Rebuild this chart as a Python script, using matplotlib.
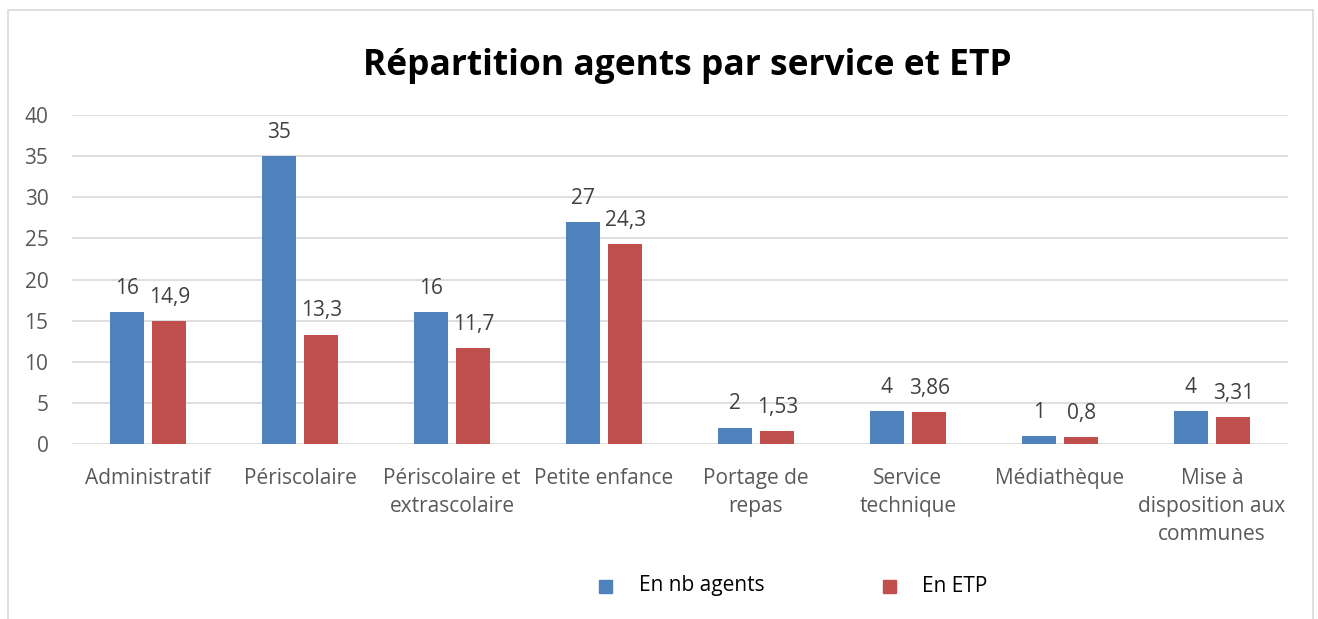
import matplotlib
matplotlib.use("Agg")
import matplotlib.pyplot as plt
import numpy as np
from matplotlib.patches import Rectangle

categories = ["Administratif", "Périscolaire", "Périscolaire et\nextrascolaire",
              "Petite enfance", "Portage de\nrepas", "Service\ntechnique",
              "Médiathèque", "Mise à\ndisposition aux\ncommunes"]
nb_agents = [16, 35, 16, 27, 2, 4, 1, 4]
etp = [14.9, 13.3, 11.7, 24.3, 1.53, 3.86, 0.8, 3.31]
yticks = [0, 5, 10, 15, 20, 25, 30, 35, 40]

BLUE = "#4f81bd"
RED = "#c0504d"
GREY = "#595959"
FONT = ["Open Sans", "DejaVu Sans"]
FS = 15

plt.rcParams["font.family"] = FONT

W, H = 1318, 619
fig = plt.figure(figsize=(W / 100, H / 100), dpi=100)

# outer chart frame
fig.patches.append(Rectangle((8 / W, -0.05), (1313 - 8) / W, 1 - 10 / H + 0.05,
                             transform=fig.transFigure, fill=False,
                             edgecolor="#d9d9d9", linewidth=1.2))

ax = fig.add_axes([72 / W, 1 - 444 / H, (1288 - 72) / W, (444 - 115) / H])
x = np.arange(len(categories))
bw = 0.224
gap = 0.058
b1 = ax.bar(x - (bw + gap) / 2, nb_agents, bw, color=BLUE, zorder=3)
b2 = ax.bar(x + (bw + gap) / 2, etp, bw, color=RED, zorder=3)

def fmt(v):
    return f"{v:g}".replace(".", ",")

for bars, vals in ((b1, nb_agents), (b2, etp)):
    for r, v in zip(bars, vals):
        ax.text(r.get_x() + r.get_width() / 2, v + 1.6, fmt(v), ha="center",
                va="bottom", fontsize=FS, color="#404040")

ax.set_xlim(-0.5, len(categories) - 0.5)
ax.set_ylim(0, 40)
ax.set_yticks(yticks)
ax.set_yticklabels([str(t) for t in yticks], fontsize=FS, color=GREY)
ax.set_xticks(x)
ax.set_xticklabels(categories, fontsize=FS, color=GREY, linespacing=1.45)
ax.tick_params(axis="both", length=0)
ax.tick_params(axis="y", pad=17)
ax.tick_params(axis="x", pad=17)
ax.grid(axis="y", color="#d9d9d9", linewidth=1.2, zorder=0)
for s in ax.spines.values():
    s.set_visible(False)

fig.text(687 / W, 1 - 66 / H, "Répartition agents par service et ETP", ha="center",
         va="center", fontsize=25.5, fontweight="bold", color="black")

# legend
fig.patches.append(Rectangle((599 / W, 1 - 593 / H), 13 / W, 13 / H,
                             transform=fig.transFigure, color=BLUE))
fig.text(639 / W, 1 - 586 / H, "En nb agents", va="center", fontsize=FS, color="black")
fig.patches.append(Rectangle((883 / W, 1 - 593 / H), 13 / W, 13 / H,
                             transform=fig.transFigure, color=RED))
fig.text(922 / W, 1 - 586 / H, "En ETP", va="center", fontsize=FS, color="black")

fig.savefig("out.png", dpi=100)
